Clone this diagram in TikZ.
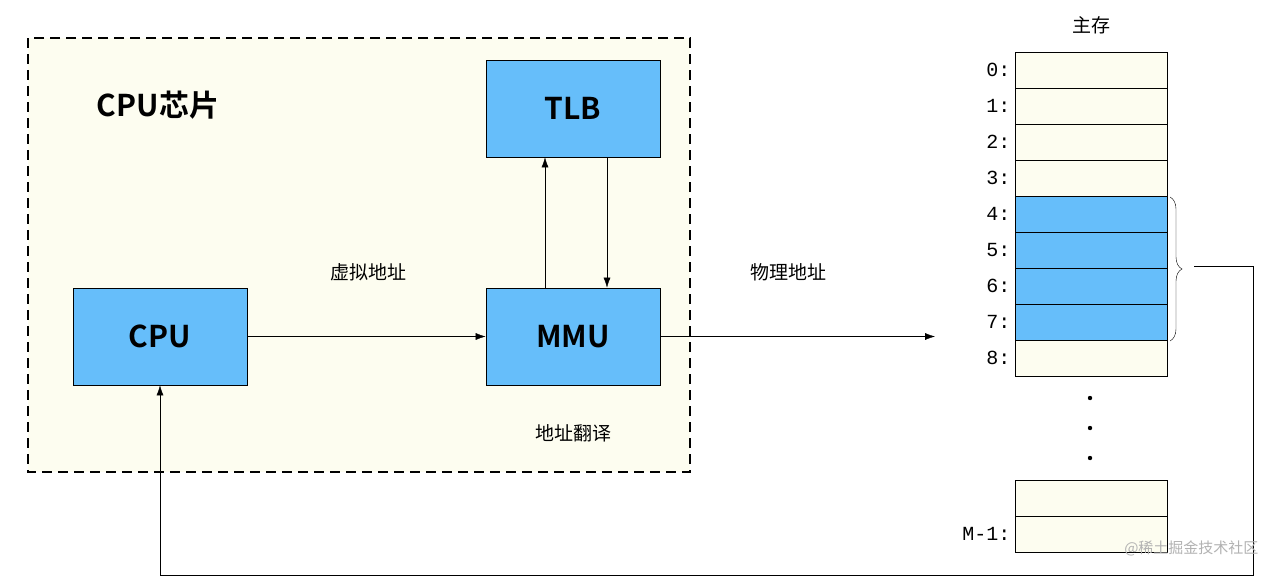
\documentclass[tikz,border=0pt]{standalone}
\usepackage{fontspec}
\newfontfamily\cjk{Noto Sans CJK SC}
\newfontfamily\cjkb{Noto Sans CJK SC Bold}
\newfontfamily\mono{Liberation Mono}
\usetikzlibrary{decorations.pathreplacing,arrows.meta}
\definecolor{boxblue}{RGB}{102,190,250}
\definecolor{cream}{RGB}{253,253,240}
\begin{document}
\begin{tikzpicture}[x=1pt,y=-1pt,
  unit/.style={draw,thick,fill=boxblue,minimum width=174pt,minimum height=97pt,font=\cjkb\fontsize{30}{30}\selectfont},
  lbl/.style={font=\cjk\fontsize{19}{19}\selectfont},
  cell/.style={draw,fill=cream,minimum width=152pt,minimum height=36pt,inner sep=0pt},
  bcell/.style={cell,fill=boxblue},
  addr/.style={font=\mono\fontsize{20}{20}\selectfont,anchor=east},
  arr/.style={-{Latex[length=10pt,width=7pt]}}]
\useasboundingbox (0,0) rectangle (1280,576);
\fill[white] (0,0) rectangle (1280,576);
\draw[fill=cream,line width=1.6pt,dash pattern=on 10pt off 6pt] (28,38) rectangle (690,472);
\node[font=\cjkb\fontsize{30}{30}\selectfont] (chip) at (158,105) {CPU芯片};
\node[unit] (tlb) at (573,108.5) {TLB};
\node[unit] (cpu) at (160,336.5) {CPU};
\node[unit] (mmu) at (573,336.5) {MMU};
\node[lbl] (va) at (368,272) {虚拟地址};
\node[lbl] (pa) at (788,272) {物理地址};
\node[lbl] (tr) at (573,433) {地址翻译};
\node[lbl] (mm) at (1091,25) {主存};
\draw[arr] (cpu) -- (mmu);
\draw[arr] (mmu.north -| 545,0) -- (tlb.south -| 545,0);
\draw[arr] (tlb.south -| 607,0) -- (mmu.north -| 607,0);
\coordinate (pend) at (935,336.5);
\draw[arr] (mmu) -- (pend);
\foreach \i in {0,...,8}{
  \pgfmathsetmacro\yy{70+36*\i}
  \ifnum\i>3 \ifnum\i<8 \node[bcell] (c\i) at (1091,\yy) {}; \else \node[cell] (c\i) at (1091,\yy) {}; \fi
  \else \node[cell] (c\i) at (1091,\yy) {}; \fi
  \node[addr] (a\i) at (1014,\yy) {\i:};
}
\foreach \y [count=\k] in {398,428,458}{\fill (1090,\y) circle (2.2pt);}
\node[cell] (m2) at (1091,498) {};
\node[cell] (m1) at (1091,534) {};
\node[addr] (am) at (1014,534) {M-1:};
\draw[decorate,decoration={brace,amplitude=12pt}] (1170,197) -- (1170,341);
\coordinate (b1) at (1194,266);
\coordinate (b2) at (1253,266);
\coordinate (b3) at (1253,575);
\coordinate (b4) at (160,575);
\draw[arr] (b1) -- (b2) -- (b3) -- (b4) -- (cpu.south);
\node[font=\cjk\fontsize{15}{15}\selectfont,text=gray!60,anchor=east] (wm) at (1262,548) {@稀土掘金技术社区};
\end{tikzpicture}
\end{document}
